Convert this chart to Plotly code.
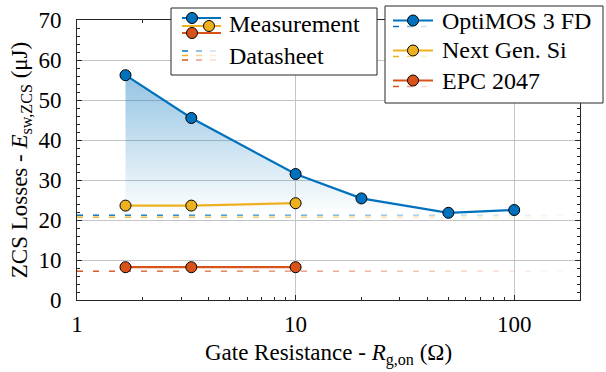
import numpy as np
import plotly.graph_objects as go

# Gate resistance operating points (Ohm)
r_gate = [5 / 3, 10 / 3, 10, 20, 50, 100]
r_gate_short = [5 / 3, 10 / 3, 10]

# Measured ZCS switching energy (uJ)
e_optimos = [56.2, 45.5, 31.5, 25.4, 21.8, 22.5]
e_nextgen = [23.6, 23.6, 24.2]
e_epc = [8.2, 8.2, 8.2]

# Datasheet switching energy (uJ)
ds_optimos = 21.2
ds_nextgen = 20.7
ds_epc = 7.2

device_names = ["OptiMOS 3 FD", "Next Gen. Si", "EPC 2047"]
colors = ["#0072BD", "#EDB120", "#D95319"]

x_range = [1, 200]
y_range = [0, 70]
x_ticks = [1, 10, 100]
y_ticks = [0, 10, 20, 30, 40, 50, 60, 70]

FONT = "Liberation Serif, serif"
W, H = 606, 372
PL, PR, PT, PB = 77, 580, 20, 300  # plot area in pixels


def px(x):
    return (x - PL) / (PR - PL)


def py(y):
    return (PB - y) / (PB - PT)


fig = go.Figure()

# gradient-filled area between the OptiMOS curve and its datasheet level
fig.add_trace(go.Scatter(x=r_gate, y=[ds_optimos] * len(r_gate), mode="lines",
                         line=dict(width=0), hoverinfo="skip", showlegend=False))
fig.add_trace(go.Scatter(
    x=r_gate, y=e_optimos, mode="lines", line=dict(width=0), fill="tonexty",
    fillgradient=dict(type="vertical",
                      colorscale=[[0, "rgba(0,114,189,0.0)"], [1, "rgba(0,114,189,0.42)"]]),
    hoverinfo="skip", showlegend=False))

# fading dashed datasheet levels
lx0, lx1 = np.log10(x_range[0]), np.log10(x_range[1])
period_px, dash_px = 16, 6
centers_px = np.arange(PL + dash_px / 2, PR - dash_px / 2 + 0.1, period_px)
frac = (centers_px - PL) / (PR - PL)
dash_x = 10 ** (lx0 + frac * (lx1 - lx0))
dash_op = np.clip(1.0 - frac, 0.03, 1.0)
for level, col in zip([ds_optimos, ds_nextgen, ds_epc], colors):
    fig.add_trace(go.Scatter(
        x=dash_x, y=[level] * len(dash_x), mode="markers",
        marker=dict(symbol="line-ew", size=dash_px / 1.4, opacity=dash_op,
                    color=col, line=dict(color=col, width=1.5)),
        hoverinfo="skip", showlegend=False))

# measurement series
for xs, ys, col in zip([r_gate, r_gate_short, r_gate_short],
                       [e_optimos, e_nextgen, e_epc], colors):
    fig.add_trace(go.Scatter(
        x=xs, y=ys, mode="lines+markers",
        line=dict(color=col, width=2.2),
        marker=dict(size=11, color=col, line=dict(color="black", width=1)),
        showlegend=False))

shapes = []
annotations = []


def box(x0, y0, x1, y1):
    shapes.append(dict(type="rect", xref="paper", yref="paper",
                       x0=px(x0), x1=px(x1), y0=py(y1), y1=py(y0),
                       fillcolor="white", line=dict(color="#262626", width=1)))


def seg(x0, x1, y, col, width=2.2, opacity=1.0):
    shapes.append(dict(type="line", xref="paper", yref="paper",
                       x0=px(x0), x1=px(x1), y0=py(y), y1=py(y),
                       opacity=opacity, line=dict(color=col, width=width)))


def dot(x, y, col, r=5.5):
    shapes.append(dict(type="circle", xref="paper", yref="paper",
                       xsizemode="pixel", ysizemode="pixel",
                       xanchor=px(x), yanchor=py(y), x0=-r, x1=r, y0=-r, y1=r,
                       fillcolor=col, line=dict(color="black", width=1)))


def faded_dashes(x0, y, col, width=1.5):
    for i, op in enumerate([1.0, 0.55, 0.2]):
        seg(x0 + 14 * i, x0 + 14 * i + 6, y, col, width=width, opacity=op)


def label(x, y, text):
    annotations.append(dict(xref="paper", yref="paper", x=px(x), y=py(y),
                            xanchor="left", yanchor="middle", showarrow=False,
                            text=text, font=dict(family=FONT, size=24, color="black")))


# legend: measurement vs datasheet
box(171, 8, 377, 75)
for yy, col in zip([18, 26, 33], colors):
    seg(182, 221, yy, col)
dot(192, 18, colors[0])
dot(209, 26, colors[1])
dot(192, 33, colors[2])
for yy, col in zip([51, 55.5, 60], colors):
    faded_dashes(182, yy, col)
label(227, 24, "Measurement")
label(227, 56, "Datasheet")

# legend: devices
box(385, 6, 603, 103)
for i, (name, col) in enumerate(zip(device_names, colors)):
    yy = 20.5 + 30 * i
    seg(393, 433, yy, col)
    dot(413, yy, col)
    faded_dashes(393, yy + 6, col)
    label(440, yy, name)

axis_common = dict(showline=True, linecolor="#262626", linewidth=1, mirror="allticks",
                   ticks="inside", ticklen=5, tickcolor="#262626",
                   gridcolor="#c4c4c4", gridwidth=1, zeroline=False, automargin=False,
                   tickfont=dict(family=FONT, size=23, color="black"))

fig.update_xaxes(type="log", range=[lx0, lx1], tickvals=x_ticks,
                 ticktext=[str(v) for v in x_ticks],
                 minor=dict(ticks="inside", ticklen=3, tickcolor="#262626",
                            dtick="D1", showgrid=False),
                 ticklabelstandoff=3,
                 title=dict(text="Gate Resistance - <i>R</i><sub>g,on</sub> (Ω)",
                            font=dict(family=FONT, size=23, color="black"), standoff=8),
                 **axis_common)
fig.update_yaxes(range=y_range, tickvals=y_ticks,
                 minor=dict(ticks="inside", ticklen=3, tickcolor="#262626",
                            dtick=2, showgrid=False),
                 ticklabelstandoff=10,
                 title=dict(text="ZCS Losses - <i>E</i><sub>sw,ZCS</sub> (μJ)",
                            font=dict(family=FONT, size=23, color="black"), standoff=4),
                 **axis_common)

fig.update_layout(width=W, height=H, margin=dict(l=PL, r=W - PR, t=PT, b=H - PB),
                  paper_bgcolor="white", plot_bgcolor="white",
                  font=dict(family=FONT),
                  shapes=shapes, annotations=annotations, showlegend=False)

fig.write_html("out.html")
